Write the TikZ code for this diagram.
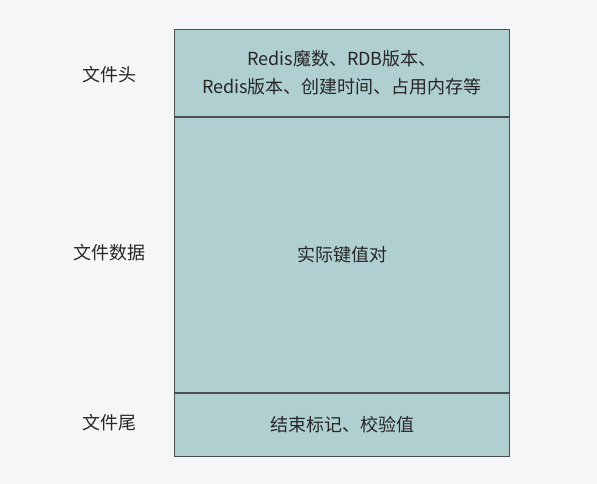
\documentclass[tikz,border=0pt]{standalone}
\usepackage{fontspec}
\setmainfont{Noto Sans CJK SC}
\usepackage{tikz}
\usetikzlibrary{positioning}
\definecolor{pagebg}{HTML}{F5F6F8}
\definecolor{cellfill}{HTML}{B0CFD1}
\definecolor{cellline}{HTML}{4A4F52}

\begin{document}
\begin{tikzpicture}[x=1pt,y=-1pt,
		cell/.style={draw=cellline, line width=1pt, fill=cellfill, minimum width=335pt, inner sep=0pt, align=center, font=\fontsize{18pt}{28pt}\selectfont, text=black!85},
		partname/.style={font=\fontsize{18pt}{20pt}\selectfont, text=black!85}]
			\useasboundingbox[fill=pagebg] (0,0) rectangle (597,484);
			% the three parts of the file, top to bottom
			\node (head) [cell, minimum height=87pt, anchor=north west] at (174,29)
				{Redis魔数、RDB版本、\\Redis版本、创建时间、占用内存等};
			\node (data) [cell, minimum height=275pt, below=0pt of head] {实际键值对};
			\node (tail) [cell, minimum height=63pt, below=0pt of data] {结束标记、校验值};
			% names on the left
			\node (headname) [partname] at (109,75) {文件头};
			\node (dataname) [partname] at (109,253) {文件数据};
			\node (tailname) [partname] at (109,423) {文件尾};
		\end{tikzpicture}
\end{document}
